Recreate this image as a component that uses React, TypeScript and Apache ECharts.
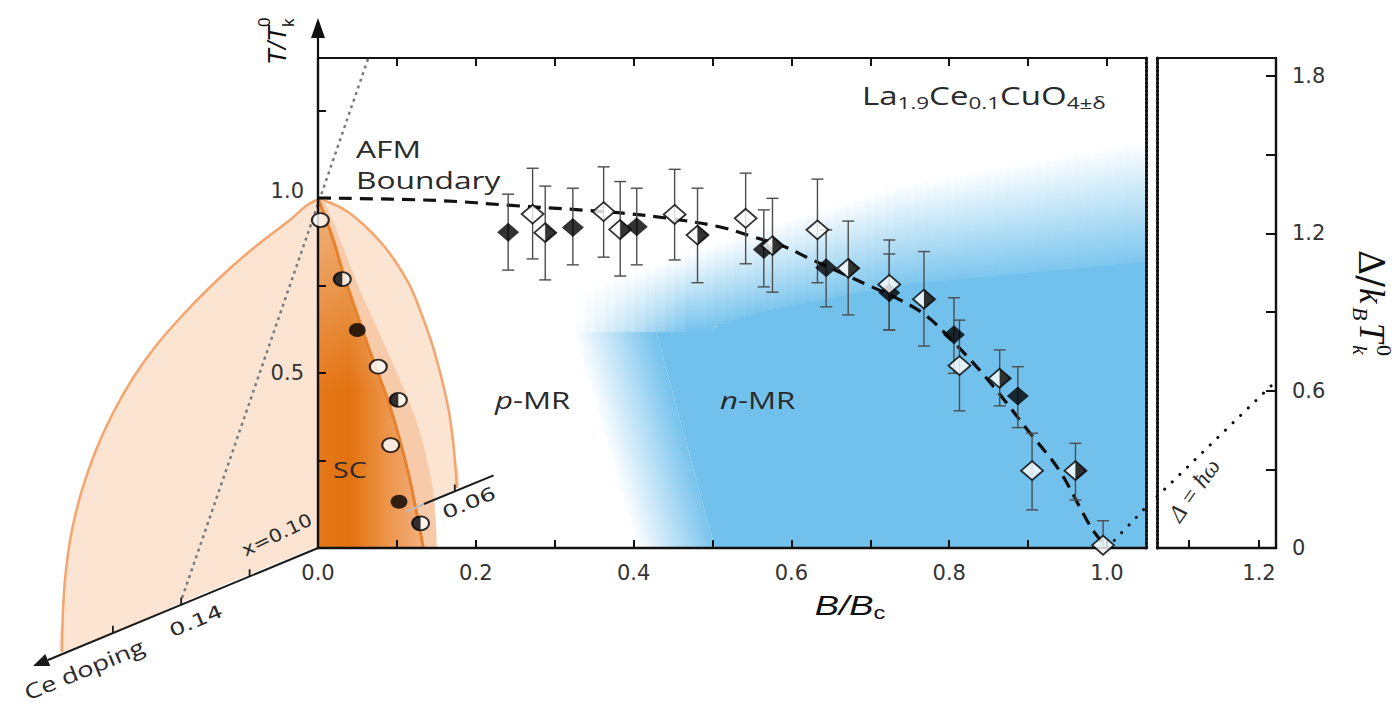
import React, { useEffect, useRef } from "react";
import * as echarts from "echarts";

// ---------------- data ----------------
// x: B/Bc, y: T/Tk0 ; error bars lo/hi in T/Tk0
const filledB = [0.241, 0.323, 0.404, 0.565, 0.644, 0.724, 0.806, 0.887];
const filledT = [0.902, 0.916, 0.918, 0.853, 0.801, 0.729, 0.609, 0.434];
const filledLo = [0.794, 0.809, 0.809, 0.746, 0.689, 0.623, 0.499, 0.344];
const filledHi = [1.011, 1.028, 1.028, 0.966, 0.909, 0.84, 0.715, 0.518];

const openB = [0.272, 0.362, 0.452, 0.542, 0.633, 0.724, 0.813, 0.905, 0.995];
const openT = [0.954, 0.961, 0.953, 0.942, 0.909, 0.753, 0.521, 0.221, 0.008];
const openLo = [0.826, 0.831, 0.823, 0.812, 0.758, 0.623, 0.392, 0.109, 0.0];
const openHi = [1.085, 1.089, 1.082, 1.071, 1.054, 0.88, 0.651, 0.328, 0.078];

const halfB = [0.288, 0.383, 0.481, 0.576, 0.672, 0.768, 0.864, 0.96];
const halfT = [0.901, 0.91, 0.894, 0.864, 0.799, 0.711, 0.485, 0.221];
const halfLo = [0.766, 0.777, 0.758, 0.731, 0.666, 0.577, 0.406, 0.137];
const halfHi = [1.034, 1.047, 1.028, 0.999, 0.934, 0.847, 0.566, 0.299];

// AFM boundary (dashed)
const afmB = [0, 0.15, 0.25, 0.38, 0.45, 0.51, 0.55, 0.59, 0.62, 0.66, 0.7, 0.735, 0.77, 0.805, 0.85, 0.9, 0.94, 0.98, 1.0];
const afmT = [1.0, 0.993, 0.978, 0.958, 0.94, 0.917, 0.89, 0.862, 0.83, 0.789, 0.748, 0.712, 0.665, 0.59, 0.478, 0.335, 0.22, 0.058, 0.0];

// SC boundary at x = 0.10 and its outer shaded band
const scB = [0, 0.0194, 0.032, 0.0638, 0.0913, 0.1145, 0.1335];
const scT = [1.0, 0.88, 0.785, 0.575, 0.404, 0.213, 0.0];
const scOuterB = [0, 0.0089, 0.0532, 0.0913, 0.1255, 0.1458, 0.1508];
const scOuterT = [1.0, 0.986, 0.737, 0.546, 0.357, 0.166, 0.0];

// SC points (circles)
const scOpenB = [0.003, 0.0764, 0.0921];
const scOpenT = [0.937, 0.518, 0.294];
const scFilledB = [0.0498, 0.1027];
const scFilledT = [0.623, 0.132];
const scHalfB = [0.0308, 0.1018, 0.13];
const scHalfT = [0.768, 0.423, 0.0706];

// Delta = hbar*omega line (right axis units)
const gapB1 = [1.0, 1.0494];
const gapD1 = [0.0, 0.156];
const gapB2 = [1.0543, 1.2243];
const gapD2 = [0.196, 0.637];

// ticks / labels
const xTicks = [0.1, 0.2, 0.3, 0.4, 0.5, 0.6, 0.7, 0.8, 0.9, 1.0];
const xLabels = [0, 0.2, 0.4, 0.6, 0.8, 1.0];
const tTicks = [0.25, 0.5, 0.75, 1.0, 1.25];
const tLabels = [0.5, 1.0];
const dTicks = [0.3, 0.6, 0.9, 1.2, 1.5, 1.8];
const dLabels = [0, 0.6, 1.2, 1.8];
const x2Ticks = [1.1, 1.2];
const x2Labels = [1.2];

// ---------------- helpers ----------------
const zip = (a: number[], b: number[]) => a.map((v, i) => [v, b[i]]);
const ELLIPSE = "path://M0,1A1,1 0 1,1 2,1A1,1 0 1,1 0,1Z";
const LEFT_HALF = "path://M1,0A1,1 0 0,0 1,2Z";
const RIGHT_TRI = "path://M0,0L1,1L0,2Z";
const BLUE = "114,193,236";
const INK = "#2a2a2a";

function lerpPts(pts: number[][], x: number) {
  if (x <= pts[0][0]) return pts[0][1];
  for (let i = 1; i < pts.length; i++) {
    if (x <= pts[i][0]) {
      const [x0, y0] = pts[i - 1];
      const [x1, y1] = pts[i];
      return y0 + ((y1 - y0) * (x - x0)) / (x1 - x0);
    }
  }
  return pts[pts.length - 1][1];
}

function txt(text: string, x: number, y: number, size: number, o: any = {}) {
  return {
    type: "text",
    x,
    y,
    z: 20,
    silent: true,
    rotation: o.rot || 0,
    scaleX: o.sx || 1,
    scaleY: o.sy || 1,
    style: {
      text,
      fontSize: size,
      fontFamily: o.family || "Open Sans",
      fontStyle: o.italic ? "italic" : "normal",
      fill: o.color || INK,
      align: o.align || "left",
      verticalAlign: o.va || "middle",
      rich: o.rich,
    },
  };
}

function buildGraphics() {
  const els: any[] = [];
  // ---- blue n-MR region (soft edges) ----
  const whiteTop = [[575, 290], [656, 264], [760, 228], [899, 185], [1128, 143], [1146, 140]];
  const fullTop = [[575, 331], [700, 327], [760, 312], [899, 285], [1146, 262]];
  for (let x = 575; x < 1146; x += 10) {
    const w = Math.min(10, 1146 - x);
    const xc = x + w / 2;
    const top = lerpPts(whiteTop, xc);
    const full = lerpPts(fullTop, xc);
    const bottom = xc < 715 ? 332 : full + 4;
    const a = xc < 715 ? Math.min(1, (xc - 575) / 115) : 1;
    const f = Math.min(1, (full - top) / (bottom - top));
    els.push({
      type: "rect",
      z: -10,
      silent: true,
      shape: { x, y: top, width: w, height: bottom - top },
      style: {
        fill: new echarts.graphic.LinearGradient(0, 0, 0, 1, [
          { offset: 0, color: `rgba(${BLUE},0)` },
          { offset: f, color: `rgba(${BLUE},${(a * 0.92).toFixed(3)})` },
          { offset: 1, color: `rgba(${BLUE},${a.toFixed(3)})` },
        ]),
      },
    });
  }
  els.push({
    type: "polygon",
    z: -10,
    silent: true,
    shape: { points: [[573, 332], [656, 332], [715, 548], [637, 548]] },
    style: {
      fill: new echarts.graphic.LinearGradient(573, 332, 649.4, 309.6, [
        { offset: 0, color: `rgba(${BLUE},0)` },
        { offset: 1, color: `rgba(${BLUE},1)` },
      ], true),
    },
  });
  els.push({
    type: "polygon",
    z: -10,
    silent: true,
    shape: { points: [[715, 327], [760, 312], [899, 285], [1146, 262], [1146, 548], [715, 548], [656, 332], [715, 332]] },
    style: { fill: `rgb(${BLUE})` },
  });

  // ---- SC dome in the doping plane ----
  const dome = [[62, 652], [63, 610], [66, 570], [72, 530], [82, 490], [96, 450], [113, 413], [133, 378], [155, 347], [180, 318], [207, 290], [236, 263], [265, 239], [290, 220], [306, 206], [318, 200], [331, 203], [348, 212], [366, 227], [384, 246], [399, 267], [412, 290], [423, 318], [433, 347], [442, 380], [449, 412], [454, 450], [457, 488]];
  els.push({ type: "polygon", z: -9, silent: true, shape: { points: dome.concat([[318, 546], [190, 599]]), smooth: 0.25 }, style: { fill: "#FCE4D3" } });
  els.push({ type: "polyline", z: -8, silent: true, shape: { points: dome, smooth: 0.25 }, style: { stroke: "#F4A56E", lineWidth: 2.5, fill: null } });
  // grey dotted AFM plane line
  els.push({ type: "line", z: -7, silent: true, shape: { x1: 368, y1: 59, x2: 181, y2: 601 }, style: { stroke: "#7a7a7a", lineWidth: 2.5, lineDash: [3, 4] } });

  // ---- Ce doping axis ----
  els.push({ type: "line", z: 6, silent: true, shape: { x1: 318, y1: 548, x2: 48, y2: 660 }, style: { stroke: "#1a1a1a", lineWidth: 2 } });
  els.push({ type: "polygon", z: 6, silent: true, shape: { points: [[33, 666], [50.3, 665.9], [45.3, 653.9]] }, style: { fill: "#1a1a1a" } });
  [[249.6, 576.3], [181.2, 604.5], [112.9, 632.8]].forEach(([x, y]) =>
    els.push({ type: "line", z: 6, silent: true, shape: { x1: x, y1: y, x2: x, y2: y - 7 }, style: { stroke: "#1a1a1a", lineWidth: 1.8 } })
  );
  els.push({ type: "line", z: 6, silent: true, shape: { x1: 405.8, y1: 511.7, x2: 424, y2: 504 }, style: { stroke: "#bbbbbb", lineWidth: 2 } });
  els.push({ type: "line", z: 6, silent: true, shape: { x1: 424, y1: 504, x2: 493.6, y2: 475.4 }, style: { stroke: "#1a1a1a", lineWidth: 2 } });
  els.push({ type: "line", z: 6, silent: true, shape: { x1: 454.8, y1: 491.5, x2: 454.8, y2: 484.5 }, style: { stroke: "#1a1a1a", lineWidth: 1.8 } });

  // ---- T axis arrow ----
  els.push({ type: "line", z: 6, silent: true, shape: { x1: 318, y1: 59, x2: 318, y2: 36 }, style: { stroke: "#111", lineWidth: 2.2 } });
  els.push({ type: "polygon", z: 6, silent: true, shape: { points: [[318, 18], [311, 38], [325, 38]] }, style: { fill: "#111" } });

  // ---- texts ----
  els.push(txt("AFM", 356, 149, 23, { sx: 1.38 }));
  els.push(txt("Boundary", 356, 180, 23, { sx: 1.38 }));
  els.push(txt("SC", 333, 469, 22, { sx: 1.3 }));
  els.push(txt("{i|p}{n|-MR}", 495, 400, 24, {
    sx: 1.3,
    rich: { i: { fontSize: 24, fontStyle: "italic", fontFamily: "Open Sans", fill: INK }, n: { fontSize: 24, fontFamily: "Open Sans", fill: INK } },
  }));
  els.push(txt("{i|n}{n|-MR}", 720, 400, 24, {
    sx: 1.3,
    rich: { i: { fontSize: 24, fontStyle: "italic", fontFamily: "Open Sans", fill: INK }, n: { fontSize: 24, fontFamily: "Open Sans", fill: INK } },
  }));
  els.push(txt("{b|La}{s|1.9}{b|Ce}{s|0.1}{b|CuO}{s|4±δ}", 862, 96, 25, {
    sx: 1.32,
    rich: {
      b: { fontSize: 25, lineHeight: 30, fontFamily: "Open Sans", fill: INK },
      s: { fontSize: 17, lineHeight: 17, verticalAlign: "bottom", fontFamily: "Open Sans", fill: INK },
    },
  }));
  els.push(txt("Ce doping", 84, 669, 21, { sx: 1.3, rot: 0.39, align: "center" }));
  els.push(txt("0.14", 196, 621, 18, { sx: 1.4, rot: 0.4, align: "center", family: "DejaVu Sans" }));
  els.push(txt("0.06", 469, 503, 18, { sx: 1.4, rot: 0.4, align: "center", family: "DejaVu Sans" }));
  els.push(txt("x=0.10", 277, 535, 18, { sx: 1.15, rot: 0.45, align: "center", family: "DejaVu Sans" }));
  els.push(txt("Δ = ħω", 1194, 490, 24, { rot: 0.95, align: "center", family: "Liberation Serif", italic: true }));
  els.push(txt("{i|B/B}{s|c}", 850, 606, 28, {
    sx: 1.3,
    align: "center",
    rich: {
      i: { fontSize: 28, lineHeight: 32, fontStyle: "italic", fontFamily: "Liberation Sans", fill: "#111" },
      s: { fontSize: 18, lineHeight: 20, verticalAlign: "bottom", fontFamily: "Liberation Sans", fill: "#111" },
    },
  }));
  // T/Tk0 (vertical)
  els.push({
    type: "group", x: 277, y: 65, rotation: Math.PI / 2, z: 20, silent: true,
    children: [
      txt("T/T", 0, 0, 26, { italic: true, family: "Liberation Sans", color: "#111" }),
      txt("0", 38, -13, 17, { family: "Liberation Sans", color: "#111" }),
      txt("k", 38, 11, 17, { family: "Liberation Sans", color: "#111" }),
    ],
  });
  // Δ/kB Tk0 (vertical, reading downward)
  els.push({
    type: "group", x: 1371, y: 250, rotation: -Math.PI / 2, z: 20, silent: true,
    children: [
      txt("Δ/", 0, 0, 35, { family: "DejaVu Serif", color: "#111" }),
      txt("k", 38, 0, 35, { family: "Liberation Serif", italic: true, color: "#111" }),
      txt("B", 57, 11, 22, { family: "Liberation Serif", italic: true, color: "#111" }),
      txt("T", 73, 0, 35, { family: "Liberation Serif", italic: true, color: "#111" }),
      txt("0", 95, -13, 22, { family: "Liberation Serif", color: "#111" }),
      txt("k", 95, 11, 22, { family: "Liberation Serif", italic: true, color: "#111" }),
    ],
  });
  return els;
}

function buildOption() {
  const tickFont = { fontFamily: "DejaVu Sans", fontSize: 21, color: "#333" };
  const axisLine = (w = 2.2) => ({ show: true, onZero: false, lineStyle: { color: "#111", width: w } });
  const dotted = { show: true, onZero: false, lineStyle: { color: "#111", width: 3, type: [2, 2] } };
  const errData = zip(filledB, filledLo).map((p, i) => [p[0], p[1], filledHi[i]])
    .concat(zip(openB, openLo).map((p, i) => [p[0], p[1], openHi[i]]))
    .concat(zip(halfB, halfLo).map((p, i) => [p[0], p[1], halfHi[i]]));

  const openStyle = { color: "#fff", borderColor: "#000", borderWidth: 2 };
  const diamondOpen = { color: "#fff", borderColor: "#000", borderWidth: 1.8 };

  return {
    animation: false,
    backgroundColor: "#fff",
    grid: [
      { left: 318, top: 58, width: 828, height: 490, outerBoundsMode: "none", containLabel: false },
      { left: 1157, top: 58, width: 119, height: 490, outerBoundsMode: "none", containLabel: false },
    ],
    xAxis: [
      {
        gridIndex: 0, type: "value", min: 0, max: 1.0494, position: "bottom", z: 6,
        axisLine: axisLine(2.4),
        axisTick: { show: true, inside: true, length: 8, customValues: xTicks, lineStyle: { color: "#111", width: 2 } },
        axisLabel: { show: true, customValues: xLabels, margin: 14, formatter: (v: number) => v.toFixed(1), ...tickFont },
        splitLine: { show: false },
      },
      {
        gridIndex: 0, type: "value", min: 0, max: 1.0494, position: "top", z: 6,
        axisLine: axisLine(2.2),
        axisTick: { show: true, inside: true, length: 8, customValues: xTicks, lineStyle: { color: "#111", width: 2 } },
        axisLabel: { show: false },
        splitLine: { show: false },
      },
      {
        gridIndex: 1, type: "value", min: 1.0543, max: 1.2243, position: "bottom", z: 6,
        axisLine: axisLine(2.4),
        axisTick: { show: true, inside: true, length: 8, customValues: x2Ticks, lineStyle: { color: "#111", width: 2 } },
        axisLabel: { show: true, customValues: x2Labels, margin: 14, formatter: (v: number) => v.toFixed(1), ...tickFont },
        splitLine: { show: false },
      },
      {
        gridIndex: 1, type: "value", min: 1.0543, max: 1.2243, position: "top", z: 6,
        axisLine: axisLine(2.2), axisTick: { show: false }, axisLabel: { show: false }, splitLine: { show: false },
      },
    ],
    yAxis: [
      {
        gridIndex: 0, type: "value", min: 0, max: 1.4, position: "left", z: 6,
        axisLine: axisLine(2.4),
        axisTick: { show: true, inside: true, length: 8, customValues: tTicks, lineStyle: { color: "#111", width: 2 } },
        axisLabel: {
          show: true, customValues: tLabels, margin: 14, ...tickFont,
          formatter: (v: number) => (Math.abs(v - 1) < 1e-9 ? "{u|1.0}" : v.toFixed(1)),
          rich: { u: { padding: [0, 0, 14, 0], ...tickFont } },
        },
        splitLine: { show: false },
      },
      {
        gridIndex: 0, type: "value", min: 0, max: 1.4, position: "right", z: 6,
        axisLine: dotted, axisTick: { show: false }, axisLabel: { show: false }, splitLine: { show: false },
      },
      { gridIndex: 0, type: "value", min: 0, max: 1.869, show: false, position: "right", axisLine: { onZero: false }, splitLine: { show: false } },
      {
        gridIndex: 1, type: "value", min: 0, max: 1.869, position: "left", z: 6,
        axisLine: dotted, axisTick: { show: false }, axisLabel: { show: false }, splitLine: { show: false },
      },
      {
        gridIndex: 1, type: "value", min: 0, max: 1.869, position: "right", z: 6,
        axisLine: axisLine(2.4),
        axisTick: { show: true, inside: true, length: 10, customValues: dTicks, lineStyle: { color: "#111", width: 2 } },
        axisLabel: {
          show: true, customValues: dLabels, margin: 16, ...tickFont,
          formatter: (v: number) => (v === 0 ? "0" : v.toFixed(1)),
        },
        splitLine: { show: false },
      },
    ],
    graphic: { elements: buildGraphics() },
    series: [
      {
        type: "line", xAxisIndex: 0, yAxisIndex: 0, data: zip(scOuterB, scOuterT), smooth: 0.3, symbol: "none",
        lineStyle: { width: 0, opacity: 0 }, areaStyle: { color: "#F7CBA9", opacity: 1 }, z: 2, silent: true,
      },
      {
        type: "line", xAxisIndex: 0, yAxisIndex: 0, data: zip(scB, scT), smooth: 0.3, symbol: "none",
        lineStyle: { width: 0, opacity: 0 },
        areaStyle: {
          opacity: 1,
          color: new echarts.graphic.LinearGradient(0, 0, 1, 0, [
            { offset: 0, color: "#E5781A" },
            { offset: 0.3, color: "#E2720F" },
            { offset: 0.65, color: "#EC9448" },
            { offset: 1, color: "#F3B080" },
          ]),
        },
        z: 3, silent: true,
      },
      {
        type: "line", xAxisIndex: 0, yAxisIndex: 0, data: zip(scB, scT), smooth: 0.3, symbol: "none",
        lineStyle: { width: 0, opacity: 0 },
        areaStyle: {
          opacity: 1,
          color: new echarts.graphic.LinearGradient(0, 0, 0, 1, [
            { offset: 0, color: "rgba(255,255,255,0.45)" },
            { offset: 0.55, color: "rgba(255,255,255,0)" },
            { offset: 1, color: "rgba(255,255,255,0)" },
          ]),
        },
        z: 3, silent: true,
      },
      {
        type: "line", xAxisIndex: 0, yAxisIndex: 0, data: zip(scB, scT), smooth: 0.3, symbol: "none",
        lineStyle: { color: "#E8812D", width: 3 }, z: 4, silent: true,
      },
      {
        type: "line", xAxisIndex: 0, yAxisIndex: 0, data: zip(afmB, afmT), smooth: 0.35, symbol: "none",
        lineStyle: { color: "#111", width: 3.2, type: [13, 8] }, z: 4, silent: true,
      },
      {
        type: "line", xAxisIndex: 0, yAxisIndex: 2, data: zip(gapB1, gapD1), symbol: "none",
        lineStyle: { color: "#111", width: 3, type: [0.1, 10.5], cap: "round" }, z: 4, silent: true,
      },
      {
        type: "line", xAxisIndex: 2, yAxisIndex: 4, data: zip(gapB2, gapD2), symbol: "none",
        lineStyle: { color: "#111", width: 3, type: [0.1, 10.5], cap: "round" }, z: 4, silent: true,
      },
      {
        type: "custom", xAxisIndex: 0, yAxisIndex: 0, data: errData, z: 5, silent: true,
        renderItem: (params: any, api: any) => {
          const b = api.value(0), lo = api.value(1), hi = api.value(2);
          const top = api.coord([b, hi]);
          const bot = api.coord([b, lo]);
          const st = { stroke: "#4d4d4d", lineWidth: 1.4 };
          return {
            type: "group",
            children: [
              { type: "line", shape: { x1: top[0], y1: top[1], x2: bot[0], y2: bot[1] }, style: st },
              { type: "line", shape: { x1: top[0] - 6, y1: top[1], x2: top[0] + 6, y2: top[1] }, style: st },
              { type: "line", shape: { x1: bot[0] - 6, y1: bot[1], x2: bot[0] + 6, y2: bot[1] }, style: st },
            ],
          };
        },
      },
      // SC circles
      { type: "scatter", xAxisIndex: 0, yAxisIndex: 0, data: zip(scOpenB, scOpenT), symbol: ELLIPSE, symbolSize: [17, 14], itemStyle: openStyle, z: 8, silent: true },
      { type: "scatter", xAxisIndex: 0, yAxisIndex: 0, data: zip(scHalfB, scHalfT), symbol: ELLIPSE, symbolSize: [17, 14], itemStyle: openStyle, z: 8, silent: true },
      { type: "scatter", xAxisIndex: 0, yAxisIndex: 0, data: zip(scHalfB, scHalfT), symbol: LEFT_HALF, symbolSize: [8.5, 14], symbolOffset: [-4.25, 0], itemStyle: { color: "#000" }, z: 9, silent: true },
      { type: "scatter", xAxisIndex: 0, yAxisIndex: 0, data: zip(scFilledB, scFilledT), symbol: ELLIPSE, symbolSize: [17, 14], itemStyle: { color: "#000" }, z: 8, silent: true },
      // diamonds
      { type: "scatter", xAxisIndex: 0, yAxisIndex: 0, data: zip(filledB, filledT), symbol: "diamond", symbolSize: [22, 19], itemStyle: { color: "#000" }, z: 8, silent: true },
      { type: "scatter", xAxisIndex: 0, yAxisIndex: 0, data: zip(openB, openT), symbol: "diamond", symbolSize: [22, 19], itemStyle: diamondOpen, z: 8, silent: true },
      { type: "scatter", xAxisIndex: 0, yAxisIndex: 0, data: zip(halfB, halfT), symbol: "diamond", symbolSize: [22, 19], itemStyle: diamondOpen, z: 8, silent: true },
      { type: "scatter", xAxisIndex: 0, yAxisIndex: 0, data: zip(halfB, halfT), symbol: RIGHT_TRI, symbolSize: [11, 19], symbolOffset: [5.5, 0], itemStyle: { color: "#000" }, z: 9, silent: true },
    ],
  };
}

export default function App() {
  const ref = useRef<HTMLDivElement>(null);
  useEffect(() => {
    const chart = echarts.init(ref.current as HTMLDivElement, null, { renderer: "svg" });
    chart.setOption(buildOption() as any);
    return () => chart.dispose();
  }, []);
  return (
    <div
      ref={ref}
      style={{ position: "fixed", left: 0, top: 0, width: 1397, height: 705, background: "#fff" }}
    />
  );
}
